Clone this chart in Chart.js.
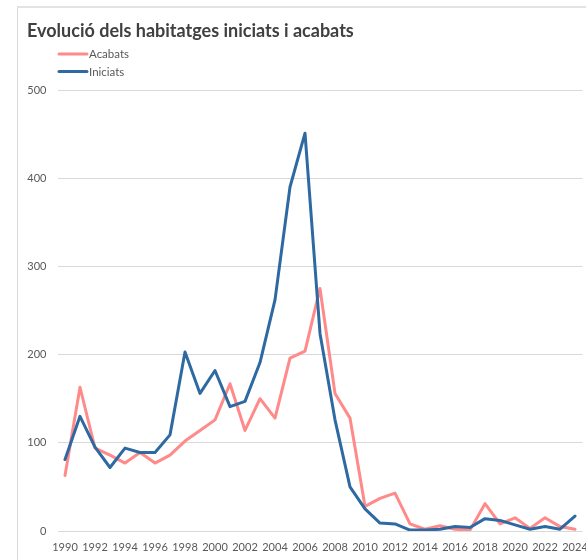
<!DOCTYPE html>
<html>
<head>
<meta charset="utf-8">
<script src="https://cdn.jsdelivr.net/npm/chart.js@4.4.1/dist/chart.umd.min.js"></script>
<style>
  html, body { margin: 0; padding: 0; background: #fff; overflow: hidden; width: 586px; height: 560px; }
  #frame { position: absolute; left: 17px; top: 6px; width: 700px; height: 700px; border-left: 1px solid #d9d9d9; border-top: 2px solid #e3e3e3; }
  #wrap { position: absolute; left: 0; top: 0; width: 620px; height: 560px; }
</style>
</head>
<body>
<div id="frame"></div>
<div id="wrap"><canvas id="chart" width="620" height="560"></canvas></div>
<script>
// Years on the category axis
const years = [
  1990, 1991, 1992, 1993, 1994, 1995, 1996, 1997, 1998, 1999,
  2000, 2001, 2002, 2003, 2004, 2005, 2006, 2007, 2008, 2009,
  2010, 2011, 2012, 2013, 2014, 2015, 2016, 2017, 2018, 2019,
  2020, 2021, 2022, 2023, 2024
];

// Finished dwellings per year
const acabats = [
  63, 163, 94, 86, 77, 89, 77, 86, 102, 114,
  126, 167, 114, 150, 128, 196, 204, 275, 156, 128,
  28, 37, 43, 8, 2, 6, 2, 1, 31, 8,
  15, 3, 15, 5, 2
];

// Started dwellings per year
const iniciats = [
  81, 130, 95, 72, 94, 89, 89, 109, 203, 156,
  182, 141, 147, 191, 262, 390, 451, 224, 126, 50,
  25, 9, 8, 1, 1, 2, 5, 4, 14, 12,
  7, 2, 5, 2, 17
];

// Value-axis ticks
const yTicks = [0, 100, 200, 300, 400, 500];

const titleText = 'Evolució dels habitatges iniciats i acabats';
const FONT = 'Lato, "Open Sans", sans-serif';

// Title and stacked legend drawn in the upper-left corner
const headerPlugin = {
  id: 'header',
  afterDraw(chart) {
    const ctx = chart.ctx;
    ctx.save();
    ctx.fillStyle = '#404040';
    ctx.font = 'bold 18px ' + FONT;
    ctx.textBaseline = 'alphabetic';
    ctx.textAlign = 'left';
    ctx.fillText(titleText, 27, 37);

    const rows = [54, 71.5];
    chart.data.datasets.forEach((ds, i) => {
      const y = rows[i];
      ctx.strokeStyle = ds.borderColor;
      ctx.lineWidth = 3;
      ctx.lineCap = 'round';
      ctx.beginPath();
      ctx.moveTo(59, y);
      ctx.lineTo(87, y);
      ctx.stroke();
      ctx.fillStyle = '#595959';
      ctx.font = '11.5px ' + FONT;
      ctx.textBaseline = 'middle';
      ctx.fillText(ds.label, 89, y + 0.5);
    });
    ctx.restore();
  }
};

new Chart(document.getElementById('chart'), {
  type: 'line',
  data: {
    labels: years,
    datasets: [
      {
        label: 'Acabats',
        data: acabats,
        borderColor: '#ff8a8a',
        backgroundColor: '#ff8a8a',
        borderWidth: 3,
        pointRadius: 0,
        tension: 0,
        borderJoinStyle: 'round',
        borderCapStyle: 'round',
        order: 2
      },
      {
        label: 'Iniciats',
        data: iniciats,
        borderColor: '#2e69a2',
        backgroundColor: '#2e69a2',
        borderWidth: 3,
        pointRadius: 0,
        tension: 0,
        borderJoinStyle: 'round',
        borderCapStyle: 'round',
        order: 1
      }
    ]
  },
  options: {
    responsive: false,
    devicePixelRatio: 1,
    animation: false,
    layout: { padding: { top: 90, left: 0, right: 37.5, bottom: 0 } },
    plugins: {
      legend: { display: false },
      title: { display: false },
      tooltip: { enabled: false }
    },
    scales: {
      x: {
        type: 'category',
        offset: true,
        grid: { display: false, drawTicks: false },
        border: { display: false },
        ticks: {
          autoSkip: false,
          maxRotation: 0,
          minRotation: 0,
          padding: 10,
          color: '#595959',
          font: { family: FONT, size: 11 },
          callback(value, index) {
            return index % 2 === 0 ? String(years[index]) : '';
          }
        },
        afterFit(scale) { scale.height = 29; }
      },
      y: {
        min: 0,
        max: 500,
        afterBuildTicks(scale) { scale.ticks = yTicks.map(v => ({ value: v })); },
        grid: { color: '#d9d9d9', lineWidth: 1, drawTicks: false },
        border: { display: false },
        ticks: {
          padding: 11,
          color: '#595959',
          font: { family: FONT, size: 11 }
        },
        afterFit(scale) { scale.width = 57.5; }
      }
    }
  },
  plugins: [headerPlugin]
});
</script>
</body>
</html>
